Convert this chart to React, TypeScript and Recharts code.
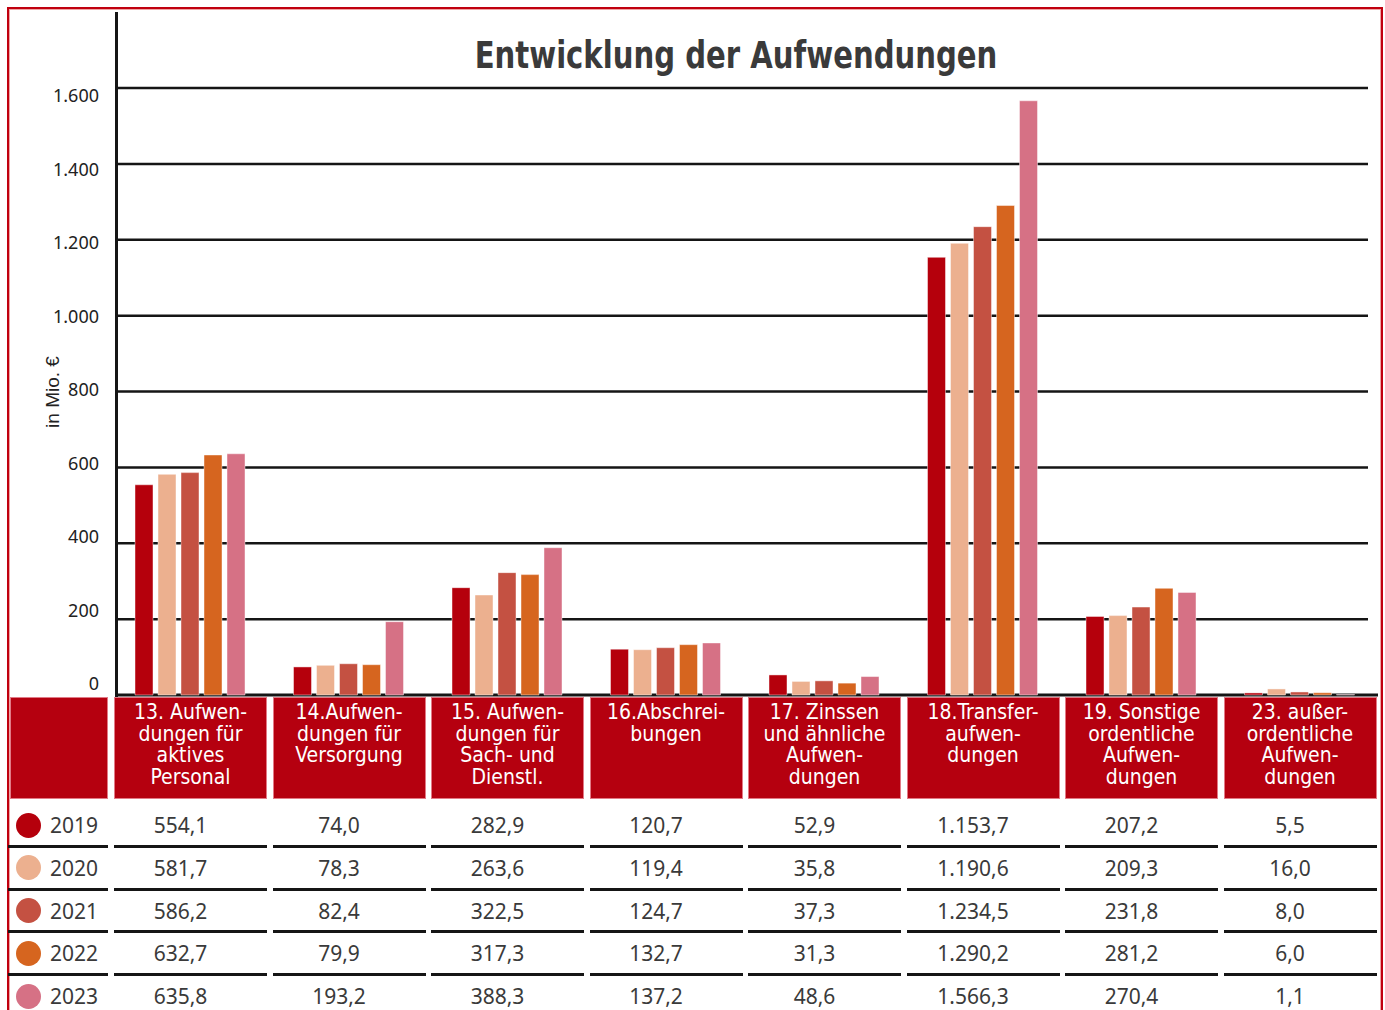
import React from "react";
import { BarChart, Bar, XAxis, YAxis, CartesianGrid } from "recharts";

const categories = [
  "13. Aufwen-\ndungen für\naktives\nPersonal",
  "14.Aufwen-\ndungen für\nVersorgung",
  "15. Aufwen-\ndungen für\nSach- und\nDienstl.",
  "16.Abschrei-\nbungen",
  "17. Zinssen\nund ähnliche\nAufwen-\ndungen",
  "18.Transfer-\naufwen-\ndungen",
  "19. Sonstige\nordentliche\nAufwen-\ndungen",
  "23. außer-\nordentliche\nAufwen-\ndungen",
];

const years = ["2019", "2020", "2021", "2022", "2023"];
const v2019 = [554.1, 74.0, 282.9, 120.7, 52.9, 1153.7, 207.2, 5.5];
const v2020 = [581.7, 78.3, 263.6, 119.4, 35.8, 1190.6, 209.3, 16.0];
const v2021 = [586.2, 82.4, 322.5, 124.7, 37.3, 1234.5, 231.8, 8.0];
const v2022 = [632.7, 79.9, 317.3, 132.7, 31.3, 1290.2, 281.2, 6.0];
const v2023 = [635.8, 193.2, 388.3, 137.2, 48.6, 1566.3, 270.4, 1.1];
const yTicks = [0, 200, 400, 600, 800, 1000, 1200, 1400, 1600];

const series = [v2019, v2020, v2021, v2022, v2023];
const colors = ["#B5000C", "#ECB08F", "#C45142", "#D6651F", "#D67185"];

const data = categories.map((c, i) => {
  const row: any = { key: c };
  years.forEach((y, s) => {
    row[y] = series[s][i];
  });
  return row;
});

const thousands = (n: number) => {
  const s = String(Math.floor(Math.abs(n)));
  return s.replace(/\B(?=(\d{3})+(?!\d))/g, ".");
};
const fmtTick = (v: number) => thousands(v);
const fmtVal = (v: number) => {
  const fixed = v.toFixed(1);
  const [int, dec] = fixed.split(".");
  return thousands(Number(int)) + "," + dec;
};

const NARROW = "'Liberation Sans Narrow', 'DejaVu Sans Condensed', 'Noto Sans', sans-serif";
const NUM = "'Noto Sans', 'Open Sans', sans-serif";

const COL0 = 114;
const COLSTEP = 158.5;
const COLW = 153;
const ROW0 = 825;
const ROWSTEP = 42.75;

const YTick = (props: any) => {
  const { x, y, payload } = props;
  const v = Number(payload.value);
  const shift = -11 + (19 * v) / 1600;
  return (
    <text
      x={x}
      y={y + shift}
      dy="0.355em"
      textAnchor="end"
      fontSize={18}
      fill="#222"
      fontFamily={NUM}
    >
      {fmtTick(v)}
    </text>
  );
};

export default function App() {
  const gridLine = (p: any) => {
    const isBase = p.y1 > 690;
    return (
      <line
        key={"g" + p.index}
        x1={116}
        x2={isBase ? 1378 : 1368}
        y1={p.y1}
        y2={p.y2}
        stroke="#151515"
        strokeWidth={isBase ? 3 : 2.5}
      />
    );
  };

  return (
    <div
      style={{
        position: "absolute",
        left: 0,
        top: 0,
        width: 1385,
        height: 1010,
        overflow: "hidden",
        background: "#fff",
        fontFamily: NUM,
      }}
    >
      {/* outer red frame */}
      <div
        style={{
          position: "absolute",
          left: 7,
          top: 7,
          width: 1372,
          height: 1030,
          border: "2px solid #C0000F",
          boxShadow: "inset 0 0 0 1px #EFA5A5",
        }}
      />
      {/* title */}
      <div
        style={{
          position: "absolute",
          left: 236,
          width: 1000,
          top: 33,
          textAlign: "center",
          fontFamily: NARROW,
          fontWeight: "bold",
          fontSize: 37,
          lineHeight: "46px",
          color: "#3A3A3A",
          transform: "scaleX(0.875)",
          transformOrigin: "50% 50%",
        }}
      >
        Entwicklung der Aufwendungen
      </div>
      {/* y label */}
      <div
        style={{
          position: "absolute",
          left: 53,
          top: 392,
          transform: "translate(-50%, -50%) rotate(-90deg)",
          fontFamily: "'Liberation Sans', Arial, sans-serif",
          fontSize: 19,
          color: "#222",
          whiteSpace: "nowrap",
        }}
      >
        in Mio. €
      </div>
      {/* vertical axis line */}
      <div
        style={{
          position: "absolute",
          left: 115,
          top: 12,
          width: 2.5,
          height: 685,
          background: "#151515",
        }}
      />
      <div style={{ position: "absolute", left: 0, top: 0 }}>
        <BarChart
          width={1385}
          height={697}
          data={data}
          margin={{ top: 88, right: 6, left: 0, bottom: 2 }}
          barGap={5}
          barCategoryGap={0}
        >
          <CartesianGrid vertical={false} horizontal={gridLine} />
          <XAxis dataKey="key" hide />
          <YAxis
            width={111}
            domain={[0, 1600]}
            ticks={yTicks}
            interval={0}
            axisLine={false}
            tickLine={false}
            tickSize={0}
            tickMargin={12}
            tick={<YTick />}
          />
          {years.map((y, s) => (
            <Bar
              key={y}
              dataKey={y}
              fill={colors[s]}
              barSize={18}
              stroke="rgba(255,255,255,0.45)"
              strokeWidth={1}
              isAnimationActive={false}
            />
          ))}
        </BarChart>
      </div>
      {/* table header */}
      <div
        style={{
          position: "absolute",
          left: 10,
          top: 697,
          width: 98,
          height: 102,
          background: "#B5000F",
          boxSizing: "border-box",
          border: "1px solid #E27A86",
        }}
      />
      {categories.map((c, i) => (
        <div
          key={c}
          style={{
            position: "absolute",
            left: COL0 + i * COLSTEP,
            top: 697,
            width: COLW,
            height: 102,
            background: "#B5000F",
            boxSizing: "border-box",
            border: "1px solid #E27A86",
            color: "#fff",
            fontFamily: NARROW,
            fontSize: 21,
            lineHeight: "21.5px",
            textAlign: "center",
            whiteSpace: "pre-line",
            paddingTop: 4,
          }}
        >
          {c}
        </div>
      ))}
      {/* table rows */}
      {years.map((y, s) => {
        const cy = ROW0 + s * ROWSTEP;
        return (
          <React.Fragment key={y}>
            <div
              style={{
                position: "absolute",
                left: 16,
                top: cy - 12.5,
                width: 25,
                height: 25,
                borderRadius: "50%",
                background: colors[s],
              }}
            />
            <div
              style={{
                position: "absolute",
                left: 50,
                top: cy - 14,
                height: 28,
                lineHeight: "28px",
                fontSize: 21,
                color: "#3A3A3A",
              }}
            >
              {y}
            </div>
            {series[s].map((v, i) => (
              <div
                key={i}
                style={{
                  position: "absolute",
                  left: COL0 + i * COLSTEP - 10,
                  width: COLW,
                  top: cy - 14,
                  height: 28,
                  lineHeight: "28px",
                  fontSize: 21,
                  textAlign: "center",
                  color: "#3A3A3A",
                }}
              >
                {fmtVal(v)}
              </div>
            ))}
            {s < years.length - 1 && (
              <>
                <div
                  style={{
                    position: "absolute",
                    left: 8,
                    width: 100,
                    top: cy + ROWSTEP / 2 - 1.5,
                    height: 3,
                    background: "#151515",
                  }}
                />
                {categories.map((c, i) => (
                  <div
                    key={c}
                    style={{
                      position: "absolute",
                      left: COL0 + i * COLSTEP,
                      width: COLW,
                      top: cy + ROWSTEP / 2 - 1.5,
                      height: 3,
                      background: "#151515",
                    }}
                  />
                ))}
              </>
            )}
          </React.Fragment>
        );
      })}
    </div>
  );
}
